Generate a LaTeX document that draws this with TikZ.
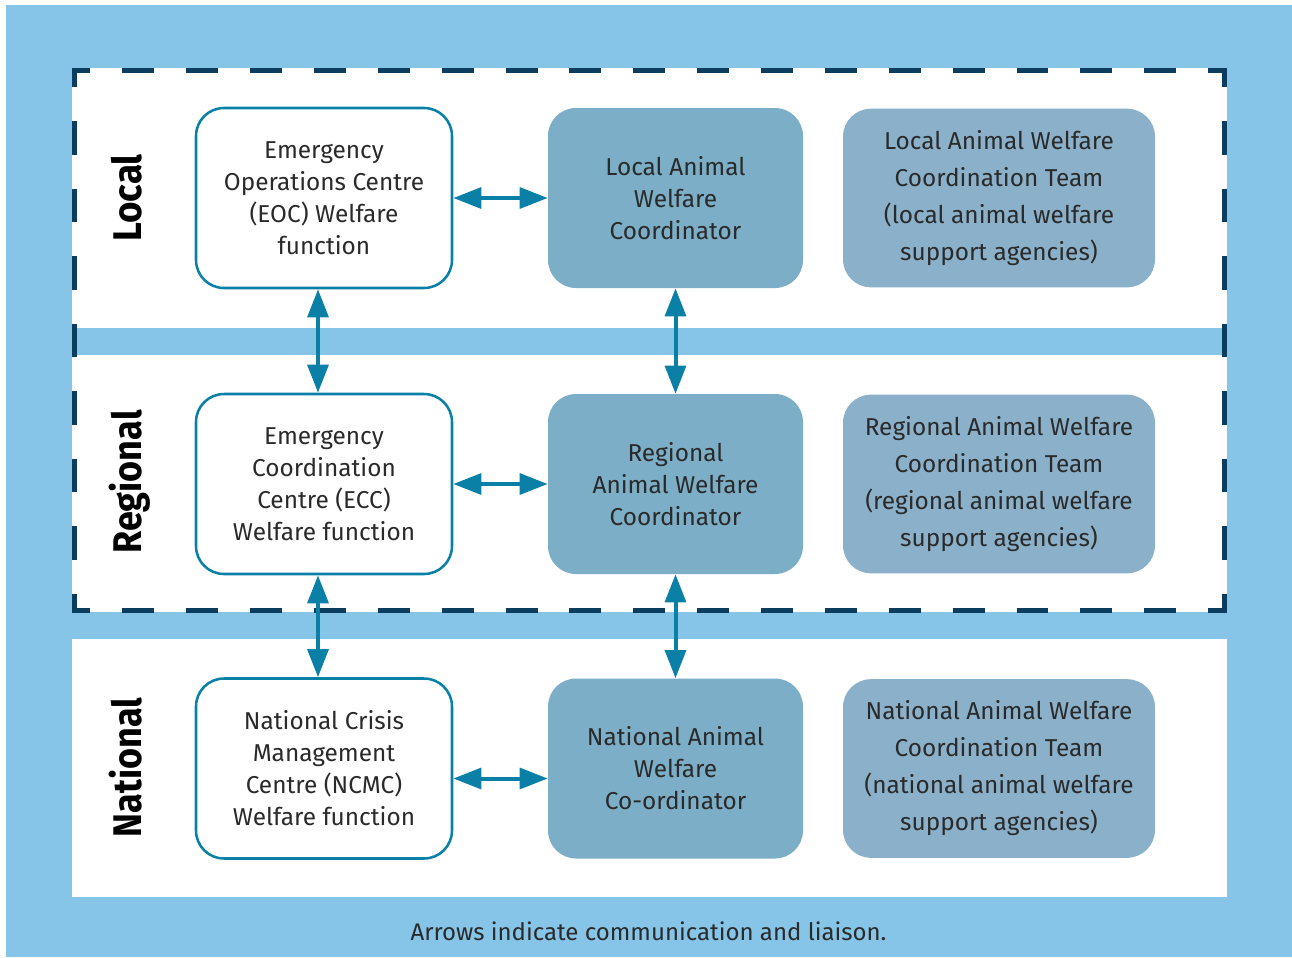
\documentclass[tikz,border=0pt]{standalone}
\usepackage{graphicx}
\usepackage{fontspec}
\setmainfont{Fira Sans}
\usetikzlibrary{arrows.meta}
\definecolor{bgblue}{HTML}{86C5E7}
\definecolor{navy}{HTML}{0B3D5E}
\definecolor{linkteal}{HTML}{0A80A6}
\definecolor{fillA}{HTML}{7CAFC7}
\definecolor{fillB}{HTML}{8BB1CA}
\definecolor{txt}{HTML}{2A2A2A}
\begin{document}
\begin{tikzpicture}[x=0.75pt,y=-0.75pt,
  every node/.style={text=txt},
  bodyfont/.style={font=\fontsize{18.3}{24}\selectfont},
  whitebox/.style={draw=linkteal, line width=1.9pt, fill=white, rounded corners=21pt, minimum width=192pt, minimum height=135pt, align=center, bodyfont, inner sep=0pt},
  coordbox/.style={fill=fillA, rounded corners=21pt, minimum width=191.25pt, minimum height=135pt, align=center, bodyfont, inner sep=0pt},
  teambox/.style={fill=fillB, rounded corners=21pt, minimum width=234pt, minimum height=134pt, align=center, font=\fontsize{18.3}{27.75}\selectfont, inner sep=0pt},
  level/.style={rotate=90, anchor=base, font=\bfseries\fontsize{30}{30}\selectfont, text=black, inner sep=0pt},
  link/.style={draw=linkteal, line width=3pt, {Triangle[length=21pt,width=15.5pt]}-{Triangle[length=21pt,width=15.5pt]}},
  hdash/.style={draw=navy, line width=3.75pt, dash pattern=on 23.95pt off 23.95pt, dash phase=10.1pt},
  vdash/.style={draw=navy, line width=3.75pt, dash pattern=on 25.3125pt off 25.3125pt, dash phase=12.656pt},
]
\useasboundingbox (0,0) rectangle (1292,957);
\fill[white] (0,0) rectangle (1292,957);
\fill[bgblue] (6,5) rectangle (1292,957);
\fill[white] (72,68) rectangle (1227,328);
\fill[white] (72,355) rectangle (1227,612);
\fill[white] (72,639) rectangle (1227,897);
\draw[hdash] (72,70.5) -- (1226.5,70.5);
\draw[hdash] (72,610.5) -- (1226.5,610.5);
\draw[vdash] (74.5,70.5) -- (74.5,610.5);
\draw[vdash] (1224,70.5) -- (1224,610.5);

\node[level] (llocal) at (141,198) {\scalebox{0.92}[1]{Local}};
\node[level] (lregional) at (141,482) {\scalebox{0.9}[1]{Regional}};
\node[level] (lnational) at (141,767.5) {\scalebox{0.9}[1]{National}};

\node[whitebox] (eoc) at (324,198) {Emergency\\Operations Centre\\(EOC) Welfare\\function};
\node[coordbox] (lawc) at (675.5,198) {Local Animal\\Welfare\\Coordinator};
\node[teambox] (lawt) at (999,198) {Local Animal Welfare\\Coordination Team\\(local animal welfare\\support agencies)};

\node[whitebox] (ecc) at (324,484) {Emergency\\Coordination\\Centre (ECC)\\Welfare function};
\node[coordbox] (rawc) at (675.5,484) {Regional\\Animal Welfare\\Coordinator};
\node[teambox] (rawt) at (999,484) {Regional Animal Welfare\\Coordination Team\\(regional animal welfare\\support agencies)};

\node[whitebox] (ncmc) at (324,768.5) {National Crisis\\Management\\Centre (NCMC)\\Welfare function};
\node[coordbox] (nawc) at (675.5,768.5) {National Animal\\Welfare\\Co-ordinator};
\node[teambox] (nawt) at (999,768.5) {National Animal Welfare\\Coordination Team\\(national animal welfare\\support agencies)};

\draw[link] (eoc.east) -- (lawc.west);
\draw[link] (ecc.east) -- (rawc.west);
\draw[link] ([yshift=-7.5pt]ncmc.east) -- ([yshift=-7.5pt]nawc.west);
\draw[link] ([xshift=-4.5pt]eoc.south) -- ([xshift=-4.5pt]ecc.north);
\draw[link] ([xshift=-4.5pt]ecc.south) -- ([xshift=-4.5pt]ncmc.north);
\draw[link] (lawc.south) -- (rawc.north);
\draw[link] (rawc.south) -- (nawc.north);

\node[anchor=base, font=\fontsize{18}{20}\selectfont] (caption) at (648.5,940) {Arrows indicate communication and liaison.};
\end{tikzpicture}
\end{document}
